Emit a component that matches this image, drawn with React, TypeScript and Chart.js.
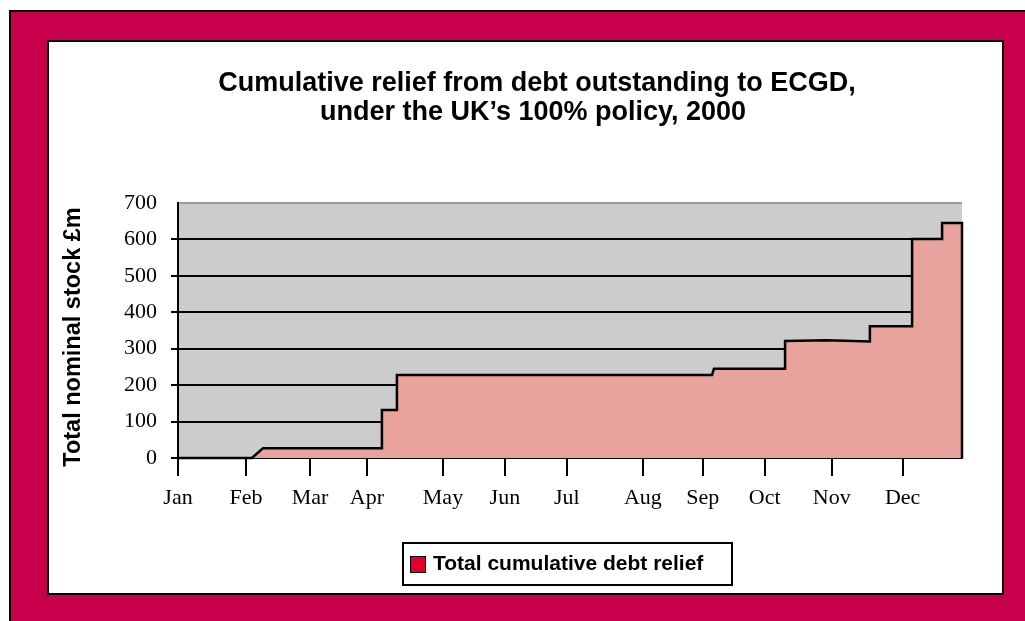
import React, { useEffect, useRef } from 'react';
import { Chart, registerables } from 'chart.js';

Chart.register(...registerables);

const titleLines = ['Cumulative relief from debt outstanding to ECGD,', 'under the UK\u2019s 100% policy, 2000'];
const yAxisTitle = 'Total nominal stock \u00a3m';
const seriesLabel = 'Total cumulative debt relief';

const monthLabels = ['Jan', 'Feb', 'Mar', 'Apr', 'May', 'Jun', 'Jul', 'Aug', 'Sep', 'Oct', 'Nov', 'Dec'];
// tick positions (day of year)
const monthTickDays = [0, 31.7, 61.6, 88.2, 123.7, 152.6, 181.5, 217.0, 245.0, 273.9, 305.2, 338.3];

// cumulative relief (day of year, £m)
const reliefDays = [0, 34.5, 39.7, 95.2, 95.2, 102.2, 102.2, 249.3, 250.2, 283.4, 283.4, 303, 323, 323, 342.7, 342.7, 356.7, 356.7, 366, 366];
const reliefValues = [0, 0, 27, 27, 132, 132, 228, 228, 245, 245, 321, 323, 320, 362, 362, 601, 601, 645, 645, 0];

const yMin = 0;
const yMax = 700;
const yStep = 100;
const xMax = 366;

const SERIF = '"Liberation Serif", "Times New Roman", serif';
const SANS = '"Liberation Sans", Arial, Helvetica, sans-serif';

const plotBg = {
  id: 'plotBg',
  beforeDraw(chart: any) {
    const { ctx, chartArea } = chart;
    ctx.save();
    ctx.fillStyle = '#cccccc';
    ctx.fillRect(chartArea.left, chartArea.top, chartArea.right - chartArea.left, chartArea.bottom - chartArea.top);
    ctx.restore();
  },
};

const decor = {
  id: 'decor',
  afterDraw(chart: any) {
    const { ctx } = chart;
    ctx.save();
    ctx.fillStyle = '#000';
    ctx.textAlign = 'center';
    ctx.textBaseline = 'middle';
    ctx.font = `bold 27px ${SANS}`;
    ctx.fillText(titleLines[0], 537, 84);
    ctx.fillText(titleLines[1], 533, 113);

    ctx.save();
    ctx.translate(74, 337);
    ctx.rotate(-Math.PI / 2);
    ctx.font = `bold 23.5px ${SANS}`;
    ctx.fillText(yAxisTitle, 0, 0);
    ctx.restore();

    // legend box
    ctx.fillStyle = '#fff';
    ctx.fillRect(403, 543, 329, 42);
    ctx.strokeStyle = '#000';
    ctx.lineWidth = 2;
    ctx.strokeRect(403, 543, 329, 42);
    ctx.fillStyle = '#e0002a';
    ctx.fillRect(410, 556, 15, 16);
    ctx.lineWidth = 1;
    ctx.strokeRect(410.5, 556.5, 15, 16);
    ctx.fillStyle = '#000';
    ctx.textAlign = 'left';
    ctx.font = `bold 21px ${SANS}`;
    ctx.fillText(seriesLabel, 433, 564);
    ctx.restore();
  },
};

export default function App() {
  const canvasRef = useRef<HTMLCanvasElement | null>(null);

  useEffect(() => {
    const canvas = canvasRef.current;
    if (!canvas) return;
    const chart = new Chart(canvas, {
      type: 'line',
      data: {
        datasets: [
          {
            label: seriesLabel,
            data: reliefDays.map((d, i) => ({ x: d, y: reliefValues[i] })),
            borderColor: '#000',
            borderWidth: 2.5,
            backgroundColor: '#e8a39c',
            fill: 'origin',
            pointRadius: 0,
            tension: 0,
            clip: 6,
          } as any,
        ],
      },
      options: {
        animation: false,
        responsive: false,
        devicePixelRatio: 1,
        layout: { padding: { left: 55, right: 63, top: 203, bottom: 103 } },
        plugins: {
          legend: { display: false },
          title: { display: false },
          tooltip: { enabled: false },
        },
        scales: {
          x: {
            type: 'linear',
            min: 0,
            max: xMax,
            afterBuildTicks: (s: any) => {
              s.ticks = monthTickDays.map((v) => ({ value: v }));
            },
            afterFit: (s: any) => {
              s.height = 60;
            },
            ticks: {
              autoSkip: false,
              maxRotation: 0,
              padding: 9,
              color: '#000',
              font: { family: SERIF, size: 22 },
              callback: (_v: any, i: number) => monthLabels[i],
            },
            grid: { drawOnChartArea: false, tickLength: 18, color: '#000', lineWidth: 2 },
            border: { display: true, color: '#000', width: 2 },
          },
          y: {
            type: 'linear',
            min: yMin,
            max: yMax,
            afterFit: (s: any) => {
              s.width = 123;
            },
            ticks: {
              stepSize: yStep,
              padding: 14,
              color: '#000',
              font: { family: SERIF, size: 22 },
            },
            grid: {
              color: (c: any) => (c.tick && c.tick.value === yMax ? '#9a9a9a' : '#000'),
              tickColor: (c: any) => (c.tick && c.tick.value === yMax ? 'rgba(0,0,0,0)' : '#000'),
              lineWidth: 2,
              tickLength: 7,
            },
            border: { display: true, color: '#000', width: 2 },
          },
        },
      } as any,
      plugins: [plotBg, decor],
    });
    return () => chart.destroy();
  }, []);

  return (
    <div style={{ position: 'fixed', left: 0, top: 0, width: 1025, height: 621, background: '#fff', overflow: 'hidden' }}>
      <div
        style={{
          position: 'absolute',
          left: 9,
          top: 10,
          width: 1030,
          height: 620,
          background: '#c8004b',
          borderLeft: '2px solid #000',
          borderTop: '2px solid #000',
          boxSizing: 'border-box',
        }}
      />
      <div
        style={{
          position: 'absolute',
          left: 47,
          top: 40,
          width: 957,
          height: 555,
          background: '#fff',
          border: '2px solid #000',
          boxSizing: 'border-box',
        }}
      />
      <canvas
        ref={canvasRef}
        width={1025}
        height={621}
        style={{ position: 'absolute', left: 0, top: 0, width: 1025, height: 621 }}
      />
    </div>
  );
}
